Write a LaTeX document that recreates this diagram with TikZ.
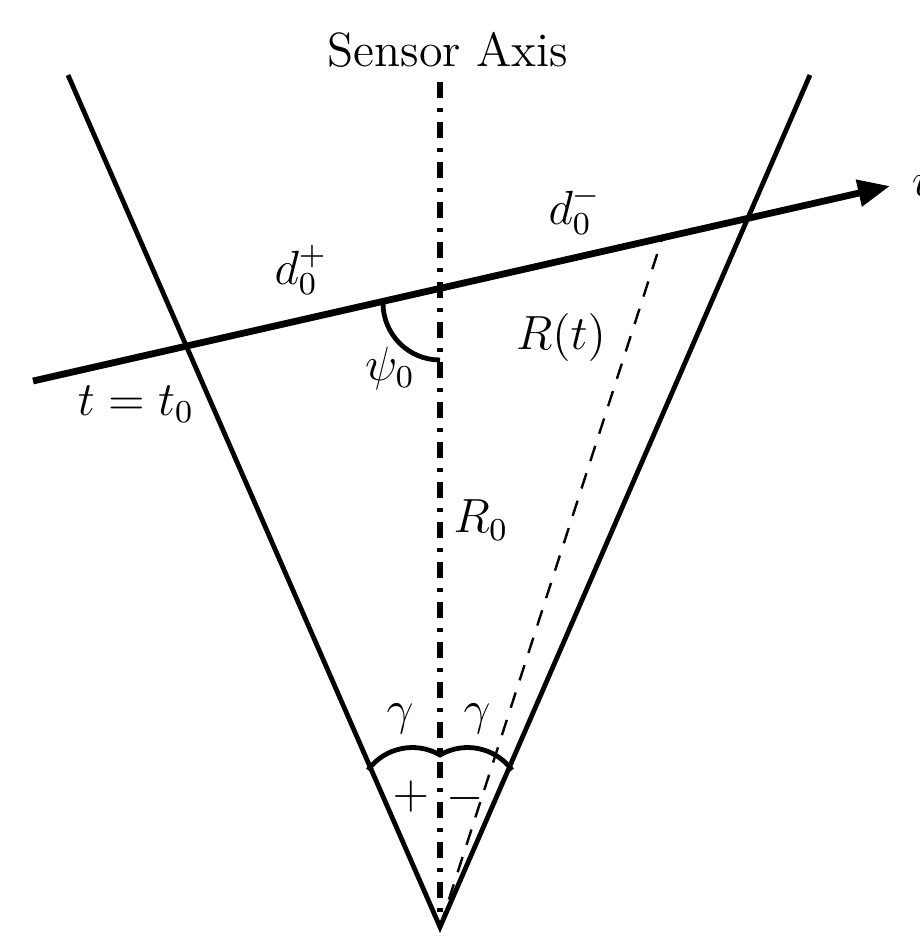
\documentclass[tikz,border=0pt]{standalone}
\usetikzlibrary{arrows.meta}
\begin{document}
\begin{tikzpicture}[x=0.25pt,y=-0.25pt,
  lbl/.style={inner sep=0pt, font=\fontsize{12}{14}\selectfont},
  edge/.style={line width=1.2pt},
  axisline/.style={line width=1.3pt, dash pattern=on 4pt off 2.5pt on 1pt off 2.5pt},
  vel/.style={line width=1.7pt, -{Triangle[length=8pt,width=6.5pt]}},
  rline/.style={line width=0.6pt, dash pattern=on 4pt off 3.2pt},
  anglearc/.style={line width=1.2pt}]
\useasboundingbox (0,0) rectangle (920,936);
% key points
\coordinate (A) at (440,927);
\coordinate (LT) at (68,75);
\coordinate (RT) at (810,75);
\coordinate (AT) at (440,82);
\coordinate (V1) at (33,381);
\coordinate (V2) at (890,186);
\coordinate (D) at (663,236);
\coordinate (P1) at (383,303);
\coordinate (G1) at (368,770);
\coordinate (G2) at (440,755);
\coordinate (G3) at (512,770);
% lines
\draw[edge] (LT) -- (A) -- (RT);
\draw[axisline] (AT) -- (A);
\draw[rline] (A) -- (D);
\draw[vel] (V1) -- (V2);
% angle arcs
\draw[anglearc] (P1) arc[start angle=180, end angle=90, radius=57];
\draw[anglearc] (G1) .. controls (385,747) and (416,741) .. (G2)
                     .. controls (464,741) and (495,747) .. (G3);
% labels
\node[lbl] (sa) at (448,50) {Sensor Axis};
\node[lbl, anchor=west] (v) at (911,186) {$v$};
\node[lbl] (dp) at (301,270) {$d_0^+$};
\node[lbl] (dm) at (575,210) {$d_0^-$};
\node[lbl] (rt) at (561,337) {$R(t)$};
\node[lbl] (psi) at (390,368) {$\psi_0$};
\node[lbl] (tt) at (136,404) {$t=t_0$};
\node[lbl] (r0) at (481,520) {$R_0$};
\node[lbl] (g1) at (400,719) {$\gamma$};
\node[lbl] (g2) at (477,719) {$\gamma$};
\node[lbl] (plus) at (411,796) {$+$};
\node[lbl] (minus) at (465,798) {$-$};
\end{tikzpicture}
\end{document}
